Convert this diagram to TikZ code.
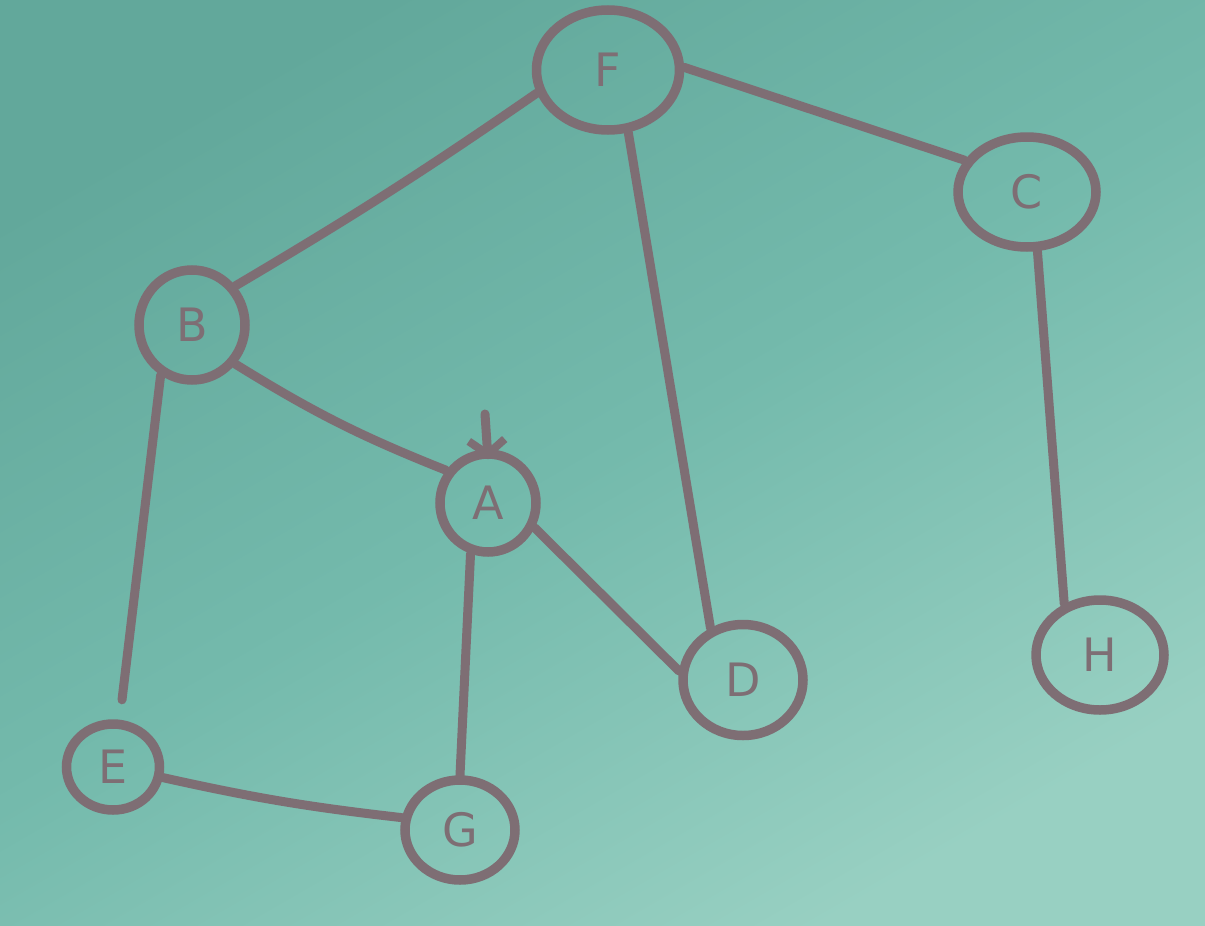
\documentclass[tikz,border=0pt]{standalone}
\usepackage{fontspec}
\setmainfont{DejaVu Sans}
\usetikzlibrary{shapes.geometric,arrows.meta}
\definecolor{board}{RGB}{116,186,172}
\definecolor{boarddark}{RGB}{98,168,155}
\definecolor{boardlight}{RGB}{152,208,194}
\definecolor{ink}{RGB}{126,110,116}
\tikzset{
  vertex/.style={ellipse, draw=ink, line width=9.5pt, inner sep=0pt,
    text=ink, font=\fontsize{46}{46}\selectfont},
  link/.style={draw=ink, line width=9pt, line cap=round},
}
\begin{document}
\begin{tikzpicture}[x=1pt,y=-1pt]
  % board background
  \shade[top color=boarddark, bottom color=boardlight, middle color=board, shading angle=30]
    (0,0) rectangle (1205,926);
  \useasboundingbox (0,0) rectangle (1205,926);

  % vertices
  \node[vertex, minimum width=143pt, minimum height=120pt] (F) at (608,70) {F};
  \node[vertex, minimum width=138pt, minimum height=110pt] (C) at (1027,192) {C};
  \node[vertex, minimum width=106pt, minimum height=110pt] (B) at (192,325) {B};
  \node[vertex, minimum width=96pt, minimum height=98pt] (A) at (488,503) {A};
  \node[vertex, minimum width=120pt, minimum height=111pt] (D) at (743,680) {D};
  \node[vertex, minimum width=128pt, minimum height=110pt] (H) at (1100,655) {H};
  \node[vertex, minimum width=93pt, minimum height=86pt] (E) at (113,767) {E};
  \node[vertex, minimum width=110pt, minimum height=100pt] (G) at (460,830) {G};

  % start marker above A
  \coordinate (start) at (485,414);
  \draw[link, -{Straight Barb[length=14pt,width=36pt,line width=8pt]}] (start) -- ([yshift=-10pt]A.north);

  % edges
  \draw[link] (F.198) to[bend left=2] (B.42);
  \draw[link] (F.2) -- (C.153);
  \draw[link] (F.-72) -- (D.122);
  \draw[link] (C.-80) -- (H.125);
  \draw[link] (B.-42) to[bend right=5] (A.142);
  \draw[link, shorten >=20pt] (B.-122) -- (E.82);
  \draw[link] (A.-109) -- (G.90);
  \draw[link] (A.-28) -- (D.172);
  \draw[link] (E.-12) to[bend right=3] (G.168);
\end{tikzpicture}
\end{document}
